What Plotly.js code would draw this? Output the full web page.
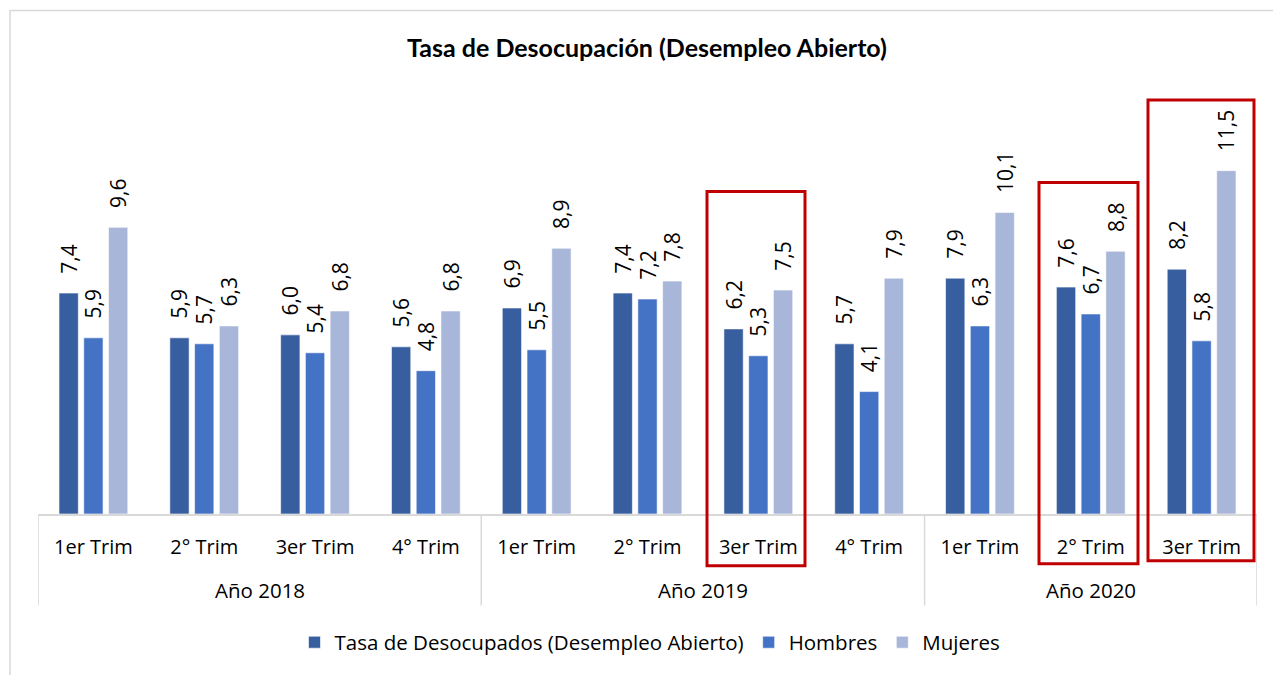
<!DOCTYPE html>
<html>
<head>
<meta charset="utf-8">
<script src="https://cdn.plot.ly/plotly-3.0.1.min.js"></script>
<style>html,body{margin:0;padding:0;background:#fff;}#chart{width:1273px;height:675px;}</style>
</head>
<body>
<div id="chart"></div>
<script>
const years = ["Año 2018","Año 2018","Año 2018","Año 2018","Año 2019","Año 2019","Año 2019","Año 2019","Año 2020","Año 2020","Año 2020"];
const quarters = ["1er Trim","2° Trim","3er Trim","4° Trim","1er Trim","2° Trim","3er Trim","4° Trim","1er Trim","2° Trim","3er Trim"];
const total = [7.4, 5.9, 6.0, 5.6, 6.9, 7.4, 6.2, 5.7, 7.9, 7.6, 8.2];
const hombres = [5.9, 5.7, 5.4, 4.8, 5.5, 7.2, 5.3, 4.1, 6.3, 6.7, 5.8];
const mujeres = [9.6, 6.3, 6.8, 6.8, 8.9, 7.8, 7.5, 7.9, 10.1, 8.8, 11.5];
const seriesNames = ["Tasa de Desocupados (Desempleo Abierto)", "Hombres", "Mujeres"];
const yearLabels = ["Año 2018", "Año 2019", "Año 2020"];
const colors = ["#375E9F", "#4472C4", "#A8B6DA"];

const FONT = "'Open Sans', 'Noto Sans', sans-serif";
const TFONT = "Lato, 'Open Sans', sans-serif";
// unique category keys (year + quarter), shown with quarter text only
const cats = years.map((y, i) => y + " | " + quarters[i]);
const vals = [total, hombres, mujeres];
const NB = "\u00A0\u00A0\u00A0"; // lift labels off the bar top
const traces = vals.map((v, i) => ({
  type: "bar",
  name: seriesNames[i],
  x: cats,
  y: v,
  marker: {color: colors[i], line: {color: "rgba(255,255,255,0.6)", width: 1}},
  texttemplate: NB + "%{y:.1f}",
  textposition: "outside",
  textangle: -90,
  constraintext: "none",
  cliponaxis: false,
  textfont: {family: FONT, size: 21, color: "#000"},
  hoverinfo: "skip"
}));

// plot area: x 38..1257, y 96..516
const L = 38, R = 1257, T = 96, B = 516;
const px = v => (v - L) / (R - L);
const py = v => (B - v) / (B - T);
const redBox = (x0, x1, y0, y1) => ({type: "rect", xref: "paper", yref: "paper",
  x0: px(x0), x1: px(x1), y0: py(y1), y1: py(y0), line: {color: "#C00000", width: 3}, fillcolor: "rgba(0,0,0,0)"});

// year groups: positions derived from the years array
const groups = yearLabels.map(yl => {
  const idx = years.map((y, i) => y === yl ? i : -1).filter(i => i >= 0);
  return {label: yl, start: idx[0], end: idx[idx.length - 1]};
});
const dividerPos = [-0.5].concat(groups.map(g => g.end + 0.5));

const shapes = [
  {type: "rect", xref: "paper", yref: "paper", x0: px(10), x1: px(1290), y0: py(700), y1: py(10),
   line: {color: "#D9D9D9", width: 1.5}, fillcolor: "rgba(0,0,0,0)", layer: "below"}
].concat(dividerPos.map(p => ({type: "line", xref: "x", yref: "paper", x0: p, x1: p,
   y0: py(516), y1: py(608), line: {color: "#D9D9D9", width: 1.5}})))
 .concat([redBox(707, 805, 192, 568), redBox(1039, 1138, 183, 566), redBox(1148, 1254, 100, 563)]);

const annotations = groups.map(g => ({
  xref: "x", yref: "paper", x: (g.start + g.end) / 2, y: py(592), yanchor: "middle", xanchor: "center",
  text: g.label, showarrow: false, font: {family: FONT, size: 20.5, color: "#000"}
}));

const layout = {
  width: 1273, height: 675,
  margin: {l: L, r: 1273 - R, t: T, b: 675 - B},
  paper_bgcolor: "#fff", plot_bgcolor: "#fff",
  separators: ",.",
  font: {family: FONT, size: 19, color: "#000"},
  title: {text: "<b>Tasa de Desocupación (Desempleo Abierto)</b>", x: 647 / 1273, xanchor: "center",
    y: 1 - 48 / 675, yanchor: "middle", font: {family: TFONT, size: 25, color: "#000"}},
  barmode: "group",
  bargap: 0.33,
  bargroupgap: 0.22,
  showlegend: true,
  legend: {orientation: "h", x: px(650), xanchor: "center", y: py(645), yanchor: "middle",
    font: {family: FONT, size: 20.5, color: "#000"}, tracegroupgap: 0, itemwidth: 30},
  xaxis: {type: "category", tickvals: cats, ticktext: quarters, showline: true, linecolor: "#D9D9D9", linewidth: 1.5,
    ticks: "", ticklabelstandoff: 14, tickfont: {family: FONT, size: 20, color: "#000"}, fixedrange: true,
    range: [-0.5, cats.length - 0.5]},
  yaxis: {range: [0, 14], visible: false, showgrid: false, zeroline: false, fixedrange: true},
  shapes: shapes,
  annotations: annotations
};

Plotly.newPlot("chart", traces, layout, {displayModeBar: false, staticPlot: true});
</script>
</body>
</html>
